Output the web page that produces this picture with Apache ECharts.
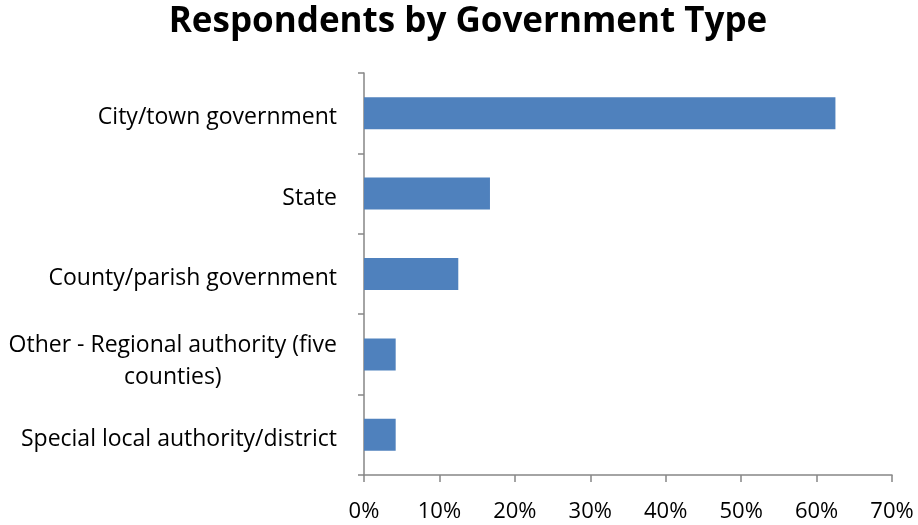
<!DOCTYPE html>
<html>
<head>
<meta charset="utf-8">
<script src="https://cdn.jsdelivr.net/npm/echarts@6/dist/echarts.min.js"></script>
<style>
  html, body { margin: 0; padding: 0; background: #fff; }
  #chart { width: 918px; height: 525px; }
</style>
</head>
<body>
<div id="chart"></div>
<script>
// Share of respondents by type of government (top to bottom)
const categories = [
  'City/town government',
  'State',
  'County/parish government',
  'Other - Regional authority (five\ncounties)',
  'Special local authority/district'
];
const shares = [62.5, 16.7, 12.5, 4.2, 4.2];
const xTicks = [0, 10, 20, 30, 40, 50, 60, 70];

const FONT = '"Open Sans", "DejaVu Sans", sans-serif';
const AXIS_GRAY = '#868686';

// Wrapped labels get a little more top padding so the two lines sit centred in the band
const categoryData = categories.map(function (name) {
  return name.indexOf('\n') < 0
    ? { value: name }
    : { value: name, textStyle: { padding: [14, 0, 0, 0] } };
});

const chart = echarts.init(document.getElementById('chart'), null, { renderer: 'canvas' });

chart.setOption({
  backgroundColor: '#ffffff',
  animation: false,
  title: {
    text: 'Respondents by Government Type',
    left: 463,
    top: 0,
    textAlign: 'center',
    textStyle: {
      fontFamily: FONT,
      fontSize: 35,
      fontWeight: 'bold',
      color: '#000000'
    }
  },
  grid: {
    left: 364,
    right: 26,
    top: 73,
    bottom: 50,
    containLabel: false
  },
  xAxis: {
    type: 'value',
    min: xTicks[0],
    max: xTicks[xTicks.length - 1],
    interval: xTicks[1] - xTicks[0],
    splitLine: { show: false },
    axisLine: { show: true, lineStyle: { color: AXIS_GRAY, width: 1.5 } },
    axisTick: { show: true, length: 7, lineStyle: { color: AXIS_GRAY, width: 1.5 } },
    axisLabel: {
      margin: 26,
      fontFamily: FONT,
      fontSize: 22,
      color: '#000000',
      formatter: '{value}%'
    }
  },
  yAxis: {
    type: 'category',
    inverse: true,
    data: categoryData,
    axisLine: { show: true, lineStyle: { color: AXIS_GRAY, width: 1.5 } },
    axisTick: { show: true, length: 6, lineStyle: { color: AXIS_GRAY, width: 1.5 } },
    axisLabel: {
      margin: 27,
      padding: [9, 0, 0, 0],
      fontFamily: FONT,
      fontSize: 23,
      color: '#000000',
      formatter: function (value) {
        if (value.indexOf('\n') < 0) return value;
        return value.split('\n').map(function (line) { return '{c|' + line + '}'; }).join('\n');
      },
      rich: {
        c: {
          align: 'center',
          fontFamily: FONT,
          fontSize: 23,
          lineHeight: 32,
          color: '#000000'
        }
      }
    }
  },
  series: [{
    type: 'bar',
    data: shares,
    barWidth: 32,
    itemStyle: { color: '#4f81bd' }
  }]
});
</script>
</body>
</html>
